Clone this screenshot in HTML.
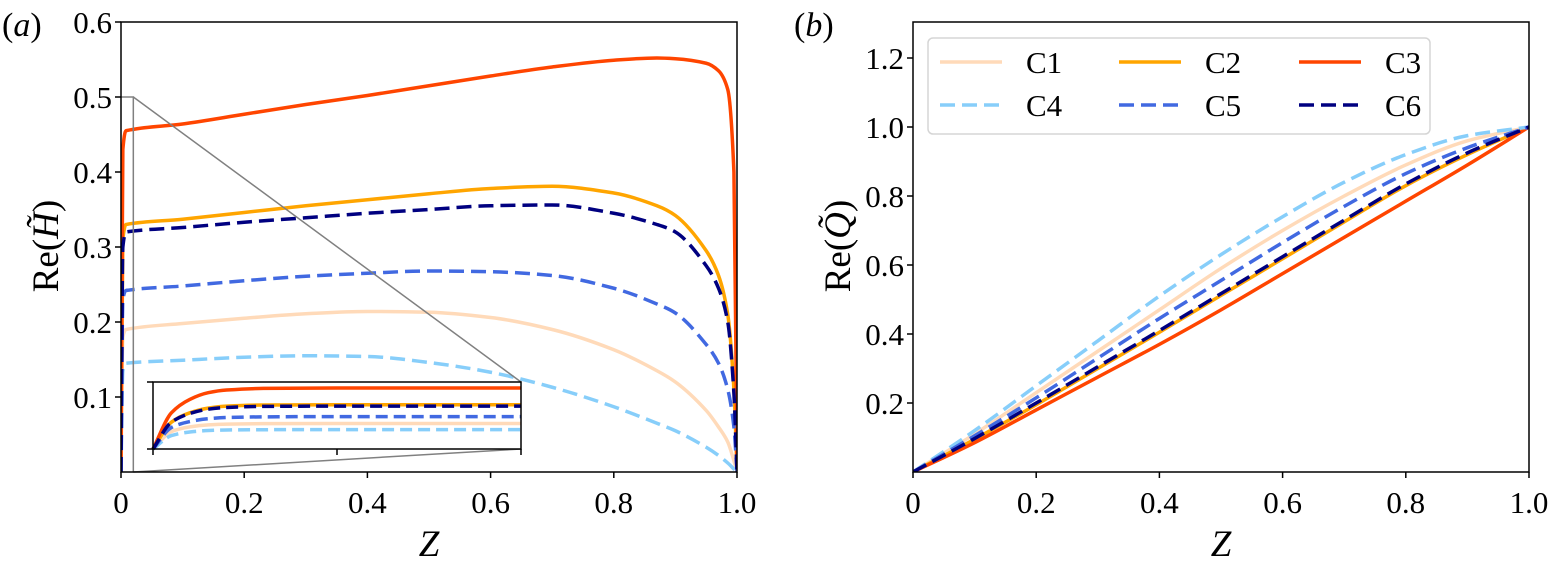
<!DOCTYPE html>
<html><head><meta charset="utf-8">
<style>
body{margin:0;background:#fff;}
svg{display:block;font-family:"Liberation Serif",serif;}
</style></head>
<body>
<svg id="fig" width="1549" height="576" viewBox="0 0 1549 576" xmlns="http://www.w3.org/2000/svg">
<text x="2" y="36" font-size="34">(<tspan font-style="italic">a</tspan>)</text>
<text x="794" y="36" font-size="34">(<tspan font-style="italic">b</tspan>)</text>
<g id="pa"></g>
<g id="pb"></g>
</svg>
<script>
const seriesNames=["C1","C2","C3","C4","C5","C6"];
const colors={C1:"#ffdab9",C2:"#ffa500",C3:"#ff4500",C4:"#87cefa",C5:"#4169e1",C6:"#000080"};
const dashed={C1:false,C2:false,C3:false,C4:true,C5:true,C6:true};
// Panel a main
const aX=[0,0.003,0.008,0.1,0.2,0.3,0.4,0.5,0.6,0.7,0.8,0.87,0.9,0.95,0.97,0.985,0.995,1];
const aC1=[0,0.18,0.19,0.198,0.205,0.211,0.214,0.213,0.206,0.19,0.163,0.135,0.12,0.082,0.06,0.04,0.015,0];
const aC2=[0,0.31,0.33,0.337,0.346,0.355,0.363,0.371,0.378,0.381,0.372,0.355,0.342,0.295,0.262,0.21,0.11,0];
const aC3=[0,0.43,0.455,0.464,0.477,0.49,0.502,0.515,0.528,0.54,0.549,0.552,0.551,0.545,0.535,0.51,0.4,0];
const aC4=[0,0.135,0.145,0.149,0.153,0.155,0.154,0.146,0.133,0.113,0.087,0.065,0.055,0.033,0.022,0.012,0.004,0];
const aC5=[0,0.23,0.242,0.248,0.255,0.261,0.265,0.268,0.267,0.262,0.245,0.224,0.212,0.17,0.145,0.11,0.06,0];
const aC6=[0,0.3,0.32,0.326,0.333,0.339,0.345,0.35,0.355,0.356,0.345,0.33,0.32,0.275,0.245,0.2,0.105,0];
// Inset
const iX=[0,0.001,0.002,0.003,0.004,0.006,0.01,0.02];
const iC1=[0,0.13,0.165,0.18,0.186,0.189,0.19,0.19];
const iC2=[0,0.2,0.27,0.305,0.32,0.328,0.33,0.33];
const iC3=[0,0.27,0.37,0.42,0.44,0.452,0.455,0.455];
const iC4=[0,0.1,0.127,0.138,0.142,0.144,0.145,0.145];
const iC5=[0,0.16,0.205,0.226,0.235,0.24,0.242,0.242];
const iC6=[0,0.2,0.265,0.297,0.31,0.318,0.32,0.32];
// Panel b
const bX=[0,0.1,0.2,0.3,0.4,0.5,0.6,0.7,0.8,0.9,1];
const bC1=[0,0.11,0.23,0.35,0.47,0.59,0.70,0.80,0.89,0.96,1];
const bC2=[0,0.095,0.195,0.3,0.405,0.512,0.618,0.725,0.83,0.92,1];
const bC3=[0,0.085,0.18,0.275,0.37,0.47,0.575,0.68,0.785,0.89,1];
const bC4=[0,0.12,0.25,0.38,0.51,0.63,0.74,0.84,0.92,0.975,1];
const bC5=[0,0.105,0.215,0.33,0.445,0.555,0.665,0.77,0.865,0.94,1];
const bC6=[0,0.097,0.2,0.305,0.41,0.517,0.624,0.73,0.835,0.925,1];
const aTicksX=[0,0.2,0.4,0.6,0.8,1.0], aTickLabX=["0","0.2","0.4","0.6","0.8","1.0"];
const aTicksY=[0.1,0.2,0.3,0.4,0.5,0.6], aTickLabY=["0.1","0.2","0.3","0.4","0.5","0.6"];
const bTicksY=[0.2,0.4,0.6,0.8,1.0,1.2], bTickLabY=["0.2","0.4","0.6","0.8","1.0","1.2"];

const NS="http://www.w3.org/2000/svg";
function mk(parent,tag,attrs){const e=document.createElementNS(NS,tag);for(const k in attrs)e.setAttribute(k,attrs[k]);parent.appendChild(e);return e;}
function lin(d0,d1,r0,r1){return v=>r0+(v-d0)/(d1-d0)*(r1-r0);}
function monoPath(px,py){
  const n=px.length;
  const d=[],m=[];
  for(let i=0;i<n-1;i++)d.push((py[i+1]-py[i])/(px[i+1]-px[i]||1e-9));
  m[0]=d[0];m[n-1]=d[n-2];
  for(let i=1;i<n-1;i++){m[i]=(d[i-1]*d[i]<=0)?0:(2/(1/d[i-1]+1/d[i]));}
  let s="M"+px[0]+","+py[0];
  for(let i=0;i<n-1;i++){const h=(px[i+1]-px[i])/3;
    s+="C"+(px[i]+h)+","+(py[i]+m[i]*h)+" "+(px[i+1]-h)+","+(py[i+1]-m[i+1]*h)+" "+px[i+1]+","+py[i+1];}
  return s;
}
function drawSeries(g,xs,ys,sx,sy,name,w,dash){
  const p=mk(g,"path",{d:monoPath(xs.map(sx),ys.map(sy)),fill:"none",stroke:colors[name],"stroke-width":w,"stroke-dasharray":dashed[name]?dash:"none","stroke-linejoin":"round"});
  
  
}
function ticksX(g,sx,y0,vals,labs,len,fs){
  vals.forEach((v,i)=>{mk(g,"line",{x1:sx(v),x2:sx(v),y1:y0,y2:y0+len,stroke:"#000","stroke-width":1.5});
    if(labs){const t=mk(g,"text",{x:sx(v),y:y0+41,"font-size":fs,"text-anchor":"middle"});t.textContent=labs[i];
    }});
}
function ticksY(g,sy,x0,vals,labs,len,fs){
  vals.forEach((v,i)=>{mk(g,"line",{x1:x0-len,x2:x0,y1:sy(v),y2:sy(v),stroke:"#000","stroke-width":1.5});
    if(labs){const t=mk(g,"text",{x:x0-9,y:sy(v)+11,"font-size":fs,"text-anchor":"end"});t.textContent=labs[i];
    }});
}
// ---- Panel a
(function(){
  const g=document.getElementById("pa");
  const L=121,R=737,T=22,B=472;
  const sx=lin(0,1,L,R), sy=lin(0,0.6,B,T);
  const clip=mk(g,"clipPath",{id:"ca"});mk(clip,"rect",{x:L,y:T,width:R-L,height:B-T});
  const cg=mk(g,"g",{"clip-path":"url(#ca)"});
  seriesNames.forEach((n,k)=>drawSeries(cg,aX,[aC1,aC2,aC3,aC4,aC5,aC6][k],sx,sy,n,3.5,"15,7"));
  const zx=sx(0.02), zy=sy(0.5);
  const ind=mk(g,"g",{stroke:"#808080","stroke-width":1.5,fill:"none"});
  
  mk(ind,"polyline",{points:`${L},${zy} ${zx},${zy} ${zx},${B}`});
  mk(ind,"line",{x1:zx,y1:zy,x2:521,y2:382});
  mk(ind,"line",{x1:zx,y1:B,x2:521,y2:449});
  mk(g,"rect",{x:L,y:T,width:R-L,height:B-T,fill:"none",stroke:"#000","stroke-width":1.5});
  ticksX(g,sx,B,aTicksX,aTickLabX,6,31);
  ticksY(g,sy,L,aTicksY,aTickLabY,6,31);
  const iL=153,iR=521,iT=382,iB=449;
  const ig=mk(g,"g",{});
  mk(ig,"rect",{x:iL,y:iT,width:iR-iL,height:iB-iT,fill:"#fff",stroke:"none"});
  const isx=lin(0,0.02,iL,iR), isy=lin(0,0.5,iB,iT);
  seriesNames.forEach((n,k)=>drawSeries(ig,iX,[iC1,iC2,iC3,iC4,iC5,iC6][k],isx,isy,n,3.5,"12,6"));
  mk(ig,"rect",{x:iL,y:iT,width:iR-iL,height:iB-iT,fill:"none",stroke:"#000","stroke-width":1.5});
  ticksX(ig,isx,iB,[0,0.01,0.02],null,6,0);
  ticksY(ig,isy,iL,[0,0.5],null,6,0);
  const yl=mk(g,"text",{x:0,y:0,"font-size":37,"text-anchor":"middle",transform:"translate(58,246) rotate(-90)"});
  yl.innerHTML='Re(<tspan font-style="italic">H̃</tspan>)';
  
  const xl=mk(g,"text",{x:429,y:556,"font-size":37,"font-style":"italic","text-anchor":"middle"});xl.textContent="Z";
  
})();
// ---- Panel b
(function(){
  const g=document.getElementById("pb");
  const L=913,R=1529,T=22,B=472;
  const sx=lin(0,1,L,R), sy=lin(0,1,B,B-345);
  const clip=mk(g,"clipPath",{id:"cb"});mk(clip,"rect",{x:L,y:T,width:R-L,height:B-T});
  const cg=mk(g,"g",{"clip-path":"url(#cb)"});
  seriesNames.forEach((n,k)=>drawSeries(cg,bX,[bC1,bC2,bC3,bC4,bC5,bC6][k],sx,sy,n,3.5,"15,7"));
  mk(g,"rect",{x:L,y:T,width:R-L,height:B-T,fill:"none",stroke:"#000","stroke-width":1.5});
  ticksX(g,sx,B,aTicksX,aTickLabX,6,31);
  ticksY(g,sy,L,bTicksY,bTickLabY,6,31);
  const yl=mk(g,"text",{x:0,y:0,"font-size":37,"text-anchor":"middle",transform:"translate(850,246) rotate(-90)"});
  yl.innerHTML='Re(<tspan font-style="italic">Q̃</tspan>)';
  
  const xl=mk(g,"text",{x:1221,y:556,"font-size":37,"font-style":"italic","text-anchor":"middle"});xl.textContent="Z";
  
  const lg=mk(g,"g",{});
  mk(lg,"rect",{x:928,y:38,width:502,height:96,rx:5,fill:"#fff",stroke:"#d5d5d5","stroke-width":1.5,"fill-opacity":0.85});
  const cols=[938,1117,1297], rows=[62,105];
  seriesNames.forEach((n,k)=>{
    const cx=cols[k%3], cy=rows[Math.floor(k/3)];
    const e=mk(lg,"g",{});
    
    
    mk(e,"line",{x1:cx+2,x2:cx+64,y1:cy,y2:cy,stroke:colors[n],"stroke-width":3.5,"stroke-dasharray":dashed[n]?"15,7":"none"});
    const t=mk(e,"text",{x:cx+88,y:cy+11,"font-size":31});t.textContent=n;
  });
})();
</script>
</body></html>
